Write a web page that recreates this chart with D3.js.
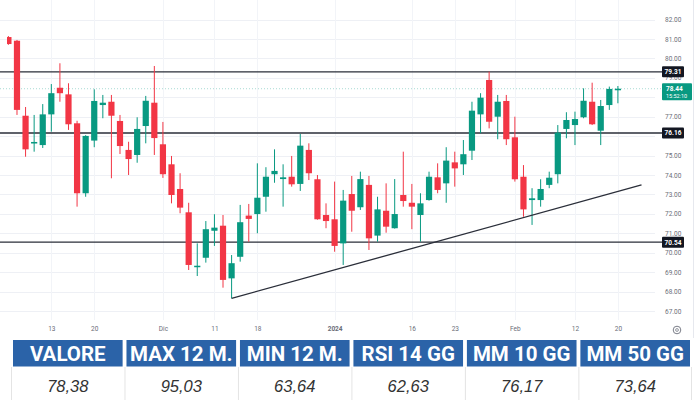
<!DOCTYPE html>
<html>
<head>
<meta charset="utf-8">
<script src="https://cdn.jsdelivr.net/npm/d3@7"></script>
<style>
  html, body { margin: 0; padding: 0; background: #fff; }
  svg { display: block; }
</style>
</head>
<body>
<svg id="chart" width="700" height="400"></svg>
<script>
// ---------- DATA ----------
const dates = [
  "2023-11-06","2023-11-07","2023-11-08","2023-11-09","2023-11-10","2023-11-13","2023-11-14","2023-11-15",
  "2023-11-16","2023-11-17","2023-11-20","2023-11-21","2023-11-22","2023-11-24","2023-11-27","2023-11-28",
  "2023-11-29","2023-11-30","2023-12-01","2023-12-04","2023-12-05","2023-12-06","2023-12-07","2023-12-08",
  "2023-12-11","2023-12-12","2023-12-13","2023-12-14","2023-12-15","2023-12-18","2023-12-19","2023-12-20",
  "2023-12-21","2023-12-22","2023-12-26","2023-12-27","2023-12-28","2023-12-29","2024-01-02","2024-01-03",
  "2024-01-04","2024-01-05","2024-01-08","2024-01-09","2024-01-10","2024-01-11","2024-01-12","2024-01-16",
  "2024-01-17","2024-01-18","2024-01-19","2024-01-22","2024-01-23","2024-01-24","2024-01-25","2024-01-26",
  "2024-01-29","2024-01-30","2024-01-31","2024-02-01","2024-02-02","2024-02-05","2024-02-06","2024-02-07",
  "2024-02-08","2024-02-09","2024-02-12","2024-02-13","2024-02-14","2024-02-15","2024-02-16","2024-02-20"
];
const open = [
  81.10,80.91,77.05,75.62,75.54,77.12,78.49,78.15,76.66,73.06,75.77,77.60,77.77,76.78,75.29,75.03,
  76.52,77.72,75.58,74.55,73.28,72.08,69.26,69.74,71.13,71.39,68.68,69.79,71.91,71.99,72.88,74.04,
  73.79,73.91,73.54,75.29,73.78,71.94,71.72,70.48,73.02,72.34,73.49,70.88,72.16,71.26,72.97,72.57,
  71.94,72.71,73.88,73.57,74.65,74.55,75.25,77.12,78.89,77.00,77.81,75.94,73.91,72.71,72.71,73.49,
  74.04,76.37,76.57,76.97,77.77,76.28,77.60,78.36
];
const high = [
  81.15,80.95,77.50,77.09,77.65,78.68,79.75,78.72,76.79,76.05,78.41,78.12,78.12,77.09,75.71,76.97,
  78.07,79.61,76.73,74.98,74.09,72.57,70.48,71.63,71.98,71.94,69.88,72.46,72.51,74.60,74.40,75.32,
  74.55,74.98,76.11,75.63,74.00,72.54,73.66,73.23,73.95,74.17,73.95,72.88,73.57,73.79,75.20,73.54,
  73.06,74.17,74.60,75.43,75.20,75.80,77.77,78.21,79.32,78.12,78.12,77.00,74.51,73.32,73.78,74.17,
  76.57,77.23,77.26,78.46,78.75,77.86,78.55,78.58
];
const low = [
  80.70,77.09,74.94,75.20,75.39,76.23,77.77,76.32,72.37,72.88,75.43,76.92,73.83,75.08,74.00,74.63,
  75.63,75.03,73.85,72.54,72.03,69.11,68.80,69.49,70.35,68.20,67.65,69.54,70.57,71.00,72.11,73.60,
  72.37,73.40,73.18,73.74,71.70,71.26,70.05,69.37,71.08,72.20,70.14,70.57,71.03,71.24,72.37,71.21,
  70.57,72.68,73.06,72.57,73.40,74.00,74.77,76.15,76.40,75.84,75.54,73.66,71.85,71.43,72.37,73.32,
  73.57,75.89,75.54,76.92,76.57,75.54,77.35,77.69
];
const close = [
  80.74,77.35,75.32,75.70,77.12,78.21,78.21,76.61,73.06,76.01,77.81,77.72,77.05,75.49,74.82,76.37,
  77.82,75.90,74.04,72.97,72.32,69.37,69.33,71.21,71.29,68.60,69.46,71.57,71.74,72.83,73.91,74.21,
  73.88,73.52,75.51,74.09,71.72,71.63,70.35,72.68,72.16,73.79,70.74,72.23,71.34,71.99,72.66,72.37,
  72.54,73.91,73.23,74.74,74.34,75.07,77.31,77.98,76.74,77.77,75.84,73.78,72.23,72.80,73.28,73.86,
  76.18,76.83,76.88,77.82,76.61,77.55,78.43,78.44
];
const tickDates  = ["2023-11-13","2023-11-20","2023-12-01","2023-12-11","2023-12-18","2024-01-02","2024-01-16","2024-01-23","2024-02-01","2024-02-12","2024-02-20"];
const tickLabels = ["13","20","Dic","11","18","2024","16","23","Feb","12","20"];
const priceTicks = [67,68,69,70,71,72,73,74,75,76,77,78,79,80,81,82];
const levels = [79.31, 76.16, 70.54];
const lastPrice = 78.44;
const countdown = "15:52:10";
const trendStart = {date: "2023-12-13", value: 67.65};
const trendEnd   = {date: "2024-02-20", value: 73.15};
const trendExtraBars = 2.75;

const headers = ["VALORE","MAX 12 M.","MIN 12 M.","RSI 14 GG","MM 10 GG","MM 50 GG"];
const values  = ["78,38","95,03","63,64","62,63","76,17","73,64"];

// ---------- DRAW ----------
const svg = d3.select("#chart");
const UP = "#089981", DOWN = "#f23645";

svg.append("rect").attr("width",700).attr("height",400).attr("fill","#fff");

const x = d3.scalePoint().domain(dates).range([8.4, 617.9]);
const y = d3.scaleLinear().domain([67, 82]).range([311, 19.55]);
const step = x.step();

const plotRight = 655;

svg.append("defs").append("clipPath").attr("id","plotclip")
  .append("rect").attr("x",7).attr("y",0).attr("width",plotRight-7).attr("height",320);

// grid
const grid = svg.append("g");
grid.selectAll("line.h").data(priceTicks).join("line")
  .attr("x1",0).attr("x2",plotRight)
  .attr("y1",d=>Math.round(y(d))+0.5).attr("y2",d=>Math.round(y(d))+0.5)
  .attr("stroke","#eef0f5").attr("stroke-width",1);
grid.selectAll("line.v").data(tickDates).join("line")
  .attr("x1",d=>Math.round(x(d))+0.5).attr("x2",d=>Math.round(x(d))+0.5)
  .attr("y1",0).attr("y2",320)
  .attr("stroke","#f2f4f8").attr("stroke-width",1);

svg.append("line").attr("x1",693.5).attr("x2",693.5).attr("y1",0).attr("y2",338)
  .attr("stroke","#e6e8ee");

// support/resistance levels
svg.selectAll("line.level").data(levels).join("line")
  .attr("class","level")
  .attr("x1",0).attr("x2",663)
  .attr("y1",d=>y(d)).attr("y2",d=>y(d))
  .attr("stroke","#2a2e39").attr("stroke-width",1.3);

// last price line
svg.append("line")
  .attr("x1",0).attr("x2",663)
  .attr("y1",y(lastPrice)).attr("y2",y(lastPrice))
  .attr("stroke",UP).attr("stroke-opacity",0.35).attr("stroke-width",1)
  .attr("stroke-dasharray","1,2");

// candles
const candles = dates.map((d,i)=>({date:d,o:open[i],h:high[i],l:low[i],c:close[i]}));
const cg = svg.append("g").attr("clip-path","url(#plotclip)");
const bw = 6.2;
cg.selectAll("line.wick").data(candles).join("line")
  .attr("x1",d=>x(d.date)).attr("x2",d=>x(d.date))
  .attr("y1",d=>y(d.h)).attr("y2",d=>y(d.l))
  .attr("stroke",d=>d.c>=d.o?UP:DOWN).attr("stroke-width",1);
cg.selectAll("rect.body").data(candles).join("rect")
  .attr("x",d=>x(d.date)-bw/2).attr("width",bw)
  .attr("y",d=>y(Math.max(d.o,d.c)))
  .attr("height",d=>Math.max(1.5, Math.abs(y(d.o)-y(d.c))))
  .attr("fill",d=>d.c>=d.o?UP:DOWN);

// trend line
const slopePerBar = (trendEnd.value-trendStart.value)/((x(trendEnd.date)-x(trendStart.date))/step);
const trendPts = [
  [x(trendStart.date), y(trendStart.value)],
  [x(trendEnd.date)+trendExtraBars*step, y(trendEnd.value+slopePerBar*trendExtraBars)]
];
svg.append("path").attr("d",d3.line()(trendPts))
  .attr("stroke","#2a2e39").attr("stroke-width",1.3).attr("fill","none");

// price axis (labels fully hidden behind the price tags are not shown)
const hiddenBy = levels.concat([lastPrice]);
const shownTicks = priceTicks.filter(t => !hiddenBy.some(l => (l===lastPrice ? (y(t)>y(l)-6 && y(t)<y(l)+12) : Math.abs(y(t)-y(l))<4)));
const yAxis = svg.append("g").attr("transform","translate(663,0)")
  .call(d3.axisRight(y).tickValues(shownTicks).tickFormat(d3.format(".2f")).tickSize(0).tickPadding(2));
yAxis.select(".domain").remove();
yAxis.selectAll("text").attr("font-family","Roboto, sans-serif").attr("font-size",6.5).attr("fill","#6a6d78");

// time axis
const xAxis = svg.append("g").attr("transform","translate(0,326)")
  .call(d3.axisBottom(x).tickValues(tickDates).tickFormat((d,i)=>tickLabels[i]).tickSize(0).tickPadding(0));
xAxis.select(".domain").remove();
xAxis.selectAll("text").attr("font-family","Roboto, sans-serif").attr("font-size",6.5).attr("fill","#6a6d78")
  .attr("font-weight",d=>d==="2024-01-02"?"bold":"normal");

// gear icon
const gear = svg.append("g").attr("transform","translate(677,330)");
gear.append("circle").attr("r",3.8).attr("fill","none").attr("stroke","#7a7d88").attr("stroke-width",1);
gear.append("circle").attr("r",1.4).attr("fill","none").attr("stroke","#7a7d88").attr("stroke-width",0.8);

// level labels
const lab = svg.selectAll("g.lvl").data(levels).join("g").attr("class","lvl")
  .attr("transform",d=>`translate(662,${y(d)})`);
lab.append("rect").attr("x",0).attr("y",-5.5).attr("width",22).attr("height",11).attr("rx",1).attr("fill","#131722");
lab.append("text").attr("x",11).attr("y",2.3).attr("text-anchor","middle")
  .attr("font-family","Roboto, sans-serif").attr("font-size",6.5).attr("font-weight","bold").attr("fill","#fff")
  .text(d=>d3.format(".2f")(d));

// last price label
const lp = svg.append("g").attr("transform",`translate(662,${y(lastPrice)})`);
lp.append("rect").attr("x",0).attr("y",-5.5).attr("width",30).attr("height",17).attr("rx",1).attr("fill",UP);
lp.append("text").attr("x",4).attr("y",2.3)
  .attr("font-family","Roboto, sans-serif").attr("font-size",6.5).attr("font-weight","bold").attr("fill","#fff")
  .text(d3.format(".2f")(lastPrice));
lp.append("text").attr("x",4).attr("y",9)
  .attr("font-family","Roboto, sans-serif").attr("font-size",5.5).attr("fill","#fff")
  .text(countdown);

// ---------- TABLE ----------
const tx = d3.scaleBand().domain(headers).range([13, 690]).paddingInner(0.034);
const tg = svg.append("g");
tg.selectAll("rect.hdr").data(headers).join("rect")
  .attr("x",d=>tx(d)).attr("y",340).attr("width",tx.bandwidth()).attr("height",26.5)
  .attr("fill","#2b63a8");
tg.selectAll("text.hdr").data(headers).join("text")
  .attr("x",d=>tx(d)+tx.bandwidth()/2).attr("y",360.7).attr("text-anchor","middle")
  .attr("font-family","Roboto, sans-serif").attr("font-weight","bold").attr("font-size",20.5)
  .attr("fill","#fff").text(d=>d);
const seps = headers.map(d=>tx(d)-1.5).concat([tx(headers[headers.length-1])+tx.bandwidth()+1.5]);
tg.selectAll("line.sep").data(seps).join("line")
  .attr("x1",d=>d).attr("x2",d=>d).attr("y1",367).attr("y2",400)
  .attr("stroke","#e4e4e4").attr("stroke-width",1);
tg.selectAll("text.val").data(headers).join("text")
  .attr("x",d=>tx(d)+tx.bandwidth()/2).attr("y",391.7).attr("text-anchor","middle")
  .attr("font-family","'Liberation Sans', Arial, sans-serif").attr("font-style","italic").attr("font-size",16.5)
  .attr("fill","#333").text((d,i)=>values[i]);
</script>
</body>
</html>
